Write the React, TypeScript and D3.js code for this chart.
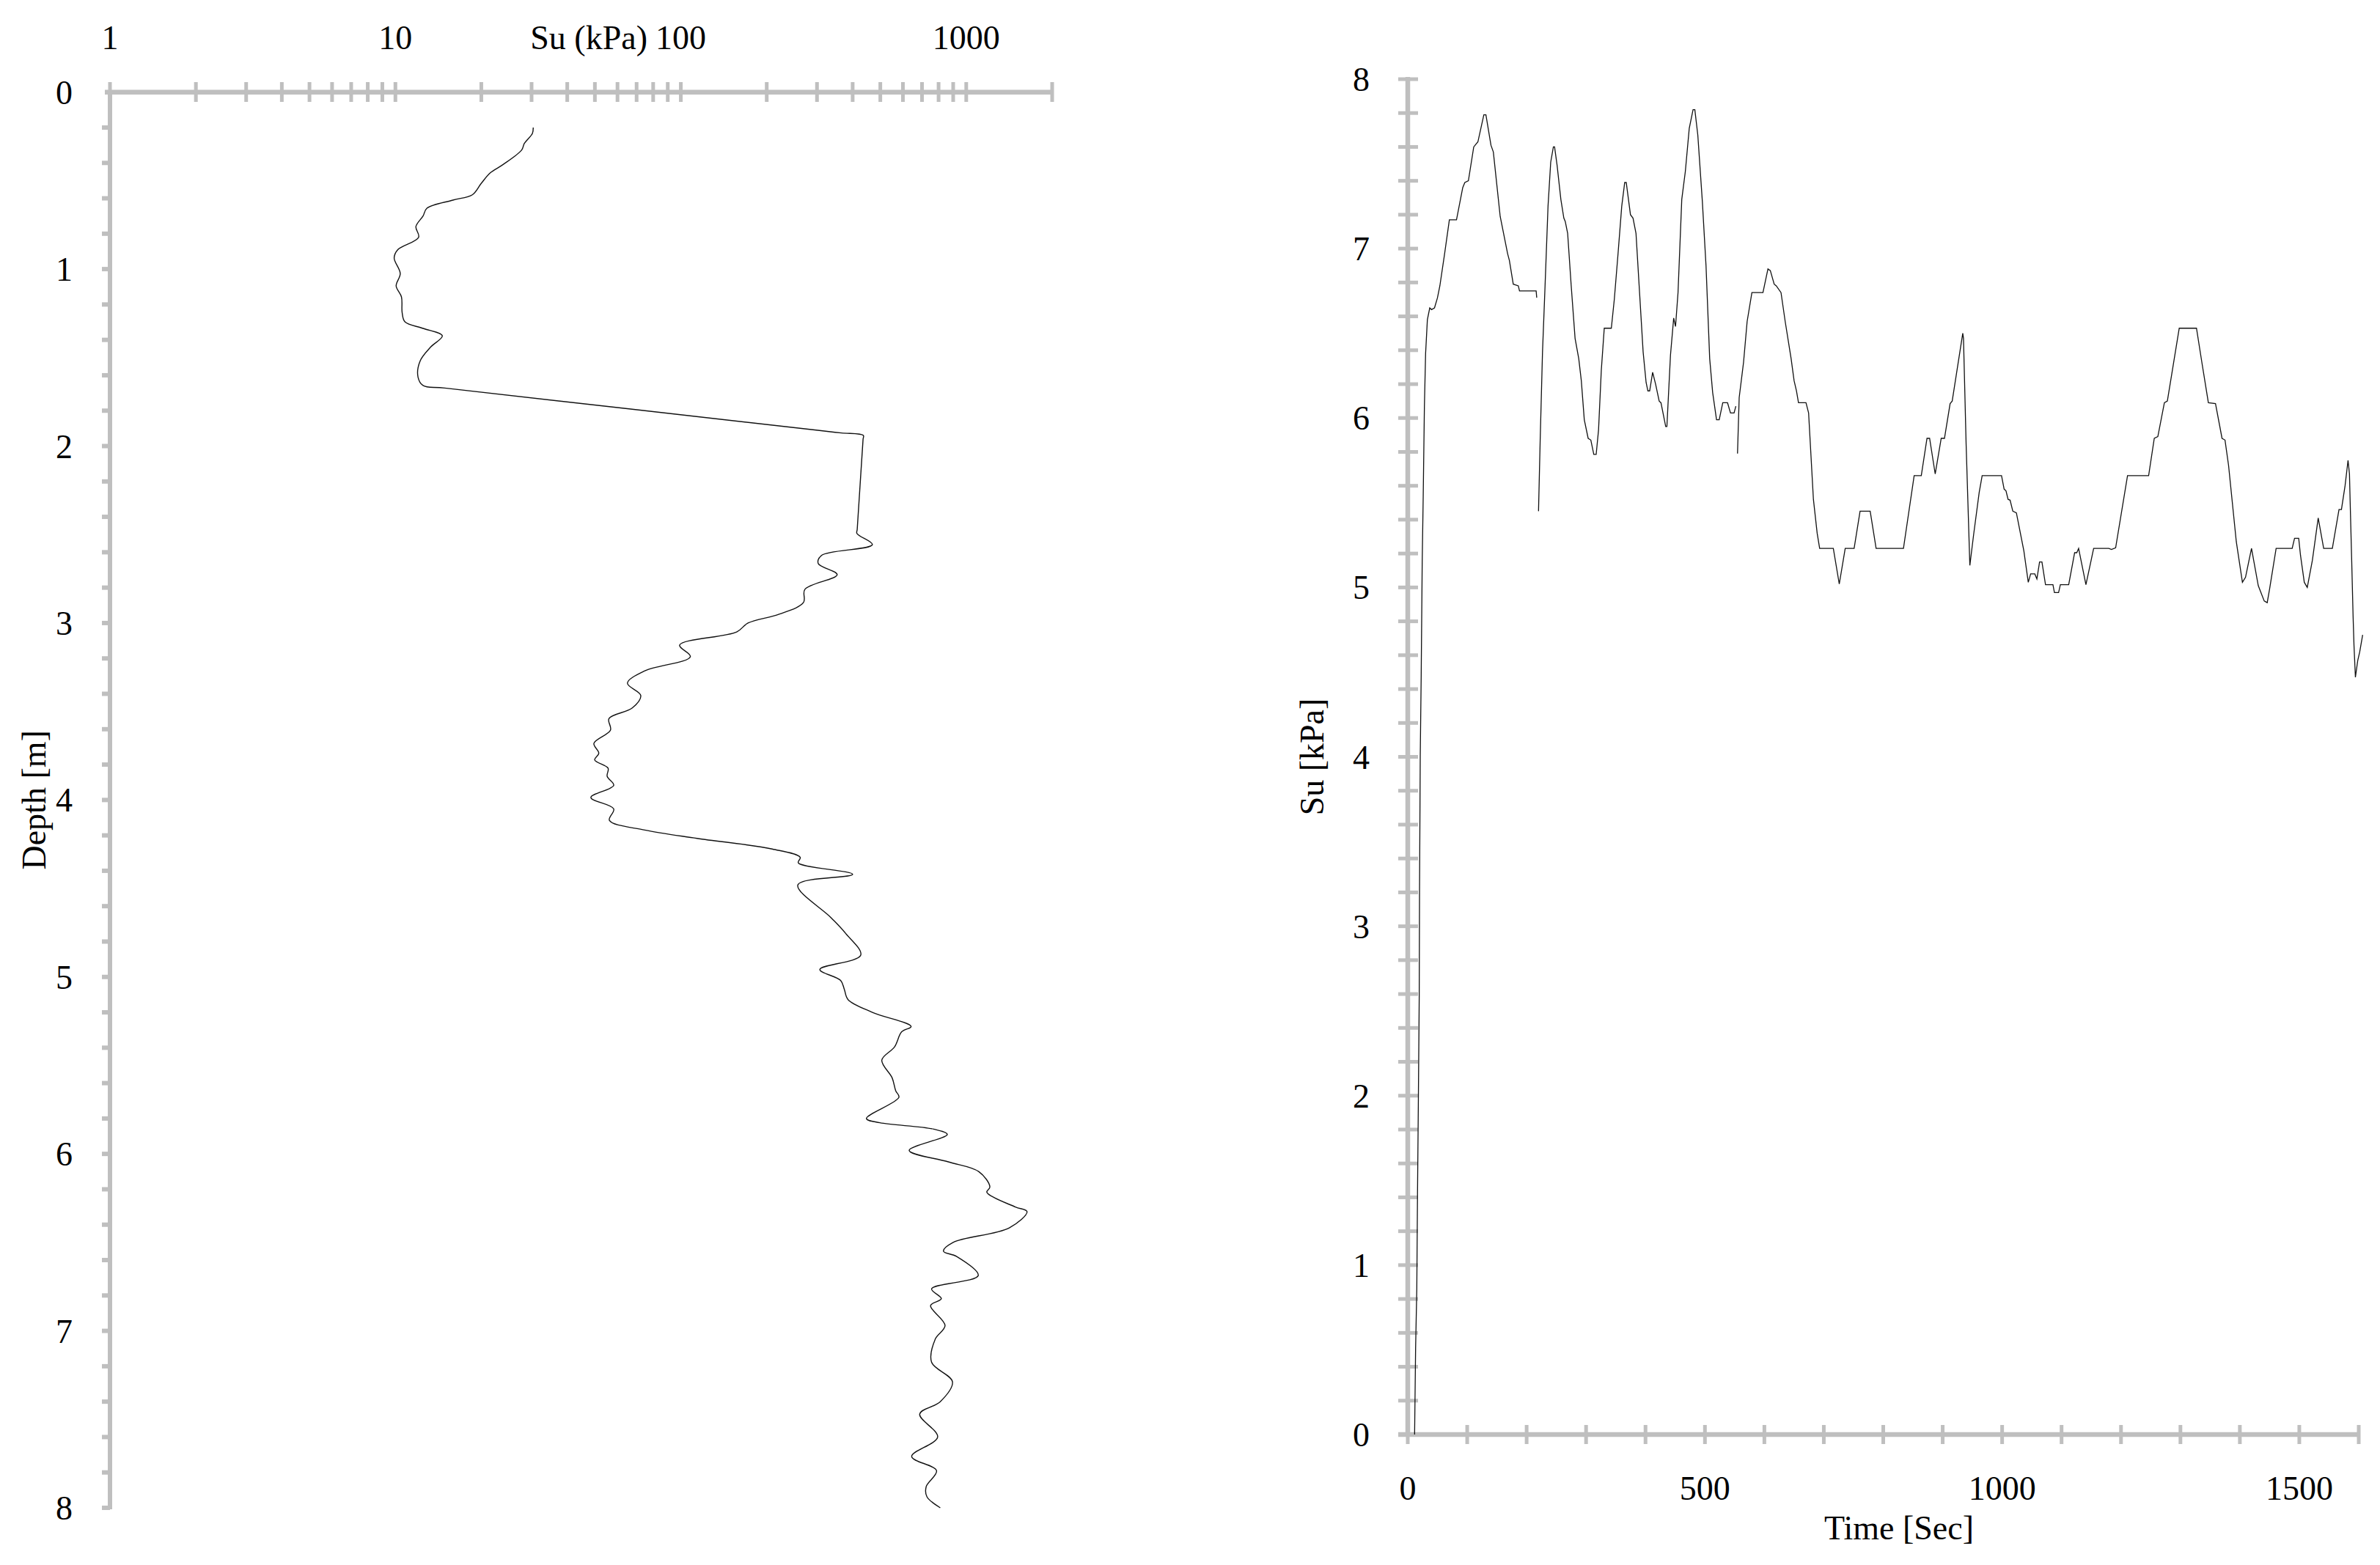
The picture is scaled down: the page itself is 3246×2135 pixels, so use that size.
import React from "react";
import * as d3 from "d3";

// ---------- Left chart: Su (kPa) vs depth (m) ----------
const profileDepth = [
  0.2, 0.233, 0.29, 0.327, 0.41, 0.456, 0.515, 0.58, 0.61, 0.656, 0.7, 0.76, 0.82, 0.89, 0.937,
  1.025, 1.095, 1.157, 1.247, 1.298, 1.335, 1.377, 1.44, 1.52, 1.61, 1.658, 1.672, 1.912, 1.926,
  1.94, 1.962, 2.47, 2.494, 2.557,
  2.618, 2.664, 2.727, 2.81, 2.884, 2.95, 3.0, 3.05, 3.125, 3.19, 3.27, 3.34, 3.41, 3.48, 3.54,
  3.605, 3.68, 3.736, 3.773, 3.82, 3.866, 3.917, 3.986, 4.05, 4.115, 4.17, 4.217, 4.277, 4.324,
  4.355, 4.42, 4.48, 4.665, 4.754, 4.877, 4.958, 5.02, 5.07, 5.127, 5.2, 5.28, 5.31, 5.395, 5.47,
  5.57, 5.643, 5.68, 5.8, 5.824, 5.86, 5.89, 5.98, 6.045, 6.1, 6.186, 6.217, 6.3, 6.326, 6.418,
  6.5, 6.55, 6.58, 6.687, 6.763, 6.818, 6.857, 6.97, 7.046, 7.177, 7.288, 7.4, 7.47, 7.6, 7.71,
  7.79, 7.88, 7.937, 8.0,
];
const profileSu = [
  30.4, 30.2, 28.3, 27.7, 23.8, 21.5, 20.0, 18.6, 15.9, 12.9, 12.5, 11.8, 12.06, 10.2, 9.9,
  10.4, 10.06, 10.5, 10.56, 10.8, 12.5, 14.6, 13.3, 12.2, 12.0, 12.5, 14.9, 306, 365,
  436, 435, 415, 414, 469,
  311, 303, 353, 272, 269, 221, 172, 157, 99, 108, 74.8, 65, 72.4, 67.6, 56,
  56.7, 49.6, 51.6, 49.9, 55.6, 55.2, 58.2, 48.4, 58.2, 56.2, 74.8, 114, 209, 262,
  258, 400, 257, 336, 378, 427, 307, 363, 374, 385, 469, 641, 594, 561, 506,
  550, 566, 581, 447, 498, 769, 858, 631, 865, 1107, 1210, 1181, 1487, 1633, 1415,
  900, 832, 926, 1102, 756, 818, 750, 843, 779, 756, 895, 811, 687, 794, 644,
  787, 724, 728, 811,
];
const suLogLabels = [1, 10, 100, 1000];
const depthLabels = [0, 1, 2, 3, 4, 5, 6, 7, 8];

// ---------- Right chart: Su [kPa] vs time [Sec] (null = gap) ----------
const timeSec = [
  11.5, 13.2, 15.2, 16.4, 17.7, 19.3, 19.8, 21, 22.6, 24.3, 26, 28, 30, 33, 37, 40, 45, 50, 54, 62,
  70, 82, 92.5, 96, 102, 111, 118, 128, 131.5, 140, 144, 155.5, 168, 171, 177.5, 186, 188, 216, 217,
  218.5,
  220, 222.8, 226.7, 231, 236, 240.5, 245, 247, 251.3, 257.6, 262.6, 265, 269, 275, 281.5, 287.7,
  292, 297, 303.5, 308, 313, 317, 321, 325.6, 330.6, 342.5, 347.5, 353.8, 360, 365, 367.6, 374.7,
  379, 384, 390, 396, 401, 404, 407, 412, 417, 423, 426, 434, 436, 442, 447.4, 450.5, 454.7, 461,
  467, 473.6, 480, 483, 488, 495.6, 501.8, 508, 513, 519.5, 524, 530, 538, 543, 549, 552,
  553.5,
  554.8, 557.6, 565, 571, 579, 597.6, 606, 610, 616.5, 620, 628, 635, 645, 650, 654, 657.4, 670,
  674.4, 682.5, 688.8, 693, 716, 726, 736, 751, 761, 778, 788, 834, 852, 864, 873.6, 878, 887.4,
  897.5, 903, 912.5, 916, 933.8, 935, 939.4, 945.7, 952, 961.4, 966.4, 999, 1003.4, 1006.5, 1010,
  1013.4, 1018, 1024, 1036.6, 1044, 1048, 1055, 1058.5, 1063, 1067, 1073, 1085.5, 1088, 1095, 1098,
  1112, 1122, 1125.6, 1128.7, 1141, 1154, 1179.5, 1184, 1191, 1211, 1246.5, 1256, 1262, 1273, 1278,
  1298, 1327, 1336, 1347, 1359, 1370, 1375, 1381, 1394, 1404.3, 1409.5, 1416, 1419.6, 1431, 1441,
  1446, 1450, 1461, 1488, 1492, 1499, 1502, 1508.4, 1513.4, 1522, 1531.8, 1541, 1555.6, 1566.8,
  1570.9, 1577, 1582, 1584.4, 1585.6, 1588, 1590.5, 1592, 1594.4, 1598.4, 1601.7, 1606.6,
];
const suTime = [
  0, 0.51, 0.86, 1.42, 1.92, 2.59, 3.2, 4.0, 4.48, 5.15, 5.54, 6.07, 6.38, 6.58, 6.65, 6.64, 6.65,
  6.71, 6.78, 6.97, 7.17, 7.17, 7.36, 7.39, 7.4, 7.6, 7.63, 7.79, 7.79, 7.61, 7.57, 7.19, 6.97, 6.93,
  6.79, 6.78, 6.75, 6.75, 6.71,
  null,
  5.45, 5.87, 6.39, 6.78, 7.25, 7.51, 7.6, 7.6, 7.49, 7.29, 7.18, 7.16, 7.09, 6.78, 6.47, 6.35,
  6.22, 5.99, 5.88, 5.87, 5.785, 5.785, 5.93, 6.28, 6.53, 6.53, 6.7, 6.97, 7.25, 7.39, 7.39, 7.2,
  7.18, 7.09, 6.74, 6.39, 6.21, 6.16, 6.16, 6.27, 6.2, 6.1, 6.09, 5.95, 5.95, 6.37, 6.59, 6.54,
  6.74, 7.29, 7.455, 7.71, 7.82, 7.82, 7.67, 7.28, 6.9, 6.35, 6.15, 5.99, 5.99, 6.09, 6.09, 6.03,
  6.03, 6.07,
  null,
  5.79, 6.12, 6.33, 6.57, 6.74, 6.74, 6.88, 6.87, 6.79, 6.78, 6.74, 6.57, 6.35, 6.22, 6.16, 6.09,
  6.09, 6.03, 5.52, 5.32, 5.23, 5.23, 5.02, 5.23, 5.23, 5.45, 5.45, 5.23, 5.23, 5.66, 5.66, 5.88,
  5.88, 5.67, 5.88, 5.88, 6.085, 6.1, 6.5, 6.47, 5.85, 5.13, 5.31, 5.56, 5.66, 5.66, 5.58, 5.57,
  5.52, 5.515, 5.45, 5.44, 5.215, 5.03, 5.08, 5.08, 5.05, 5.15, 5.15, 5.016, 5.016, 4.97, 4.97,
  5.016, 5.016, 5.205, 5.205, 5.23, 5.016, 5.23, 5.23, 5.224, 5.234, 5.66, 5.66, 5.88, 5.89, 6.09,
  6.1, 6.53, 6.53, 6.33, 6.09, 6.085, 5.88, 5.87, 5.72, 5.27, 5.03, 5.06, 5.17, 5.23, 5.01, 4.92,
  4.91, 4.99, 5.23, 5.23, 5.29, 5.29, 5.19, 5.03, 5.0, 5.16, 5.41, 5.23, 5.23, 5.46, 5.46, 5.6,
  5.75, 5.67, 5.5, 5.18, 4.83, 4.66, 4.47, 4.57, 4.62, 4.72,
];
const timeLabels = [0, 500, 1000, 1500];
const suLabels = [0, 1, 2, 3, 4, 5, 6, 7, 8];

const W = 3246;
const H = 2135;
const AXIS = "#BFBFBF";
const FONT = "'Liberation Serif', 'Times New Roman', serif";
const FS = 46;

export default function App() {
  // left chart scales
  const xLog = d3.scaleLog().domain([1, 2000]).range([150, 1435]);
  const yDepth = d3.scaleLinear().domain([0, 8]).range([125.7, 2057]);
  // right chart scales
  const xTime = d3.scaleLinear().domain([0, 1600]).range([1920, 3217]);
  const ySu = d3.scaleLinear().domain([0, 8]).range([1957, 108]);

  const profile = profileDepth.map((d, i) => [d, profileSu[i]] as [number, number]);
  const profilePath = d3
    .line<[number, number]>()
    .x((d) => xLog(d[1]))
    .y((d) => yDepth(d[0]))
    .curve(d3.curveCatmullRom.alpha(0.5))(profile);

  const series = timeSec.map((t, i) => [t, suTime[i]] as [number, number | null]);
  const timePath = d3
    .line<[number, number | null]>()
    .defined((d) => d[1] !== null)
    .x((d) => xTime(d[0]))
    .y((d) => ySu(d[1] as number))(series);

  // log ticks: 1..9, 10..90, 100..900, 1000, 2000
  const logTicks: number[] = [];
  [1, 10, 100].forEach((dec) => {
    for (let k = 1; k <= 9; k++) logTicks.push(k * dec);
  });
  logTicks.push(1000, 2000);

  const depthMinor = d3.range(0, 41).map((i) => i * 0.2).filter((v) => v > 0.01);
  const suMinor = d3.range(0, 41).map((i) => i * 0.2).filter((v) => v > 0.01);
  const timeTicks = d3.range(0, 1601, 100);

  return (
    <svg
      width={W}
      height={H}
      viewBox={`0 0 ${W} ${H}`}
      style={{ position: "absolute", left: 0, top: 0, background: "#fff" }}
      fontFamily={FONT}
    >
      <rect x={0} y={0} width={W} height={H} fill="#fff" />

      {/* ===== LEFT CHART ===== */}
      <line x1={143} x2={1437} y1={yDepth(0)} y2={yDepth(0)} stroke={AXIS} strokeWidth={6.5} />
      {logTicks.map((v) => (
        <line key={"lt" + v} x1={xLog(v)} x2={xLog(v)} y1={112} y2={139} stroke={AXIS} strokeWidth={5} />
      ))}
      {suLogLabels.map((v) => (
        <text key={"ll" + v} x={xLog(v)} y={67} fontSize={FS} textAnchor="middle" fill="#000">
          {v}
        </text>
      ))}
      <text x={883} y={67} fontSize={FS} textAnchor="end" fill="#000">
        Su (kPa)
      </text>

      <line x1={150} x2={150} y1={yDepth(0)} y2={yDepth(8) + 2} stroke={AXIS} strokeWidth={6} />
      {depthMinor.map((v) => (
        <line key={"dt" + v} x1={139} x2={150} y1={yDepth(v)} y2={yDepth(v)} stroke={AXIS} strokeWidth={6} />
      ))}
      {depthLabels.map((v) => (
        <text key={"dl" + v} x={99} y={yDepth(v)} dy="0.35em" fontSize={FS} textAnchor="end" fill="#000">
          {v}
        </text>
      ))}
      <text
        transform={`translate(62, ${(yDepth(0) + yDepth(8)) / 2}) rotate(-90)`}
        fontSize={FS}
        textAnchor="middle"
        fill="#000"
      >
        Depth [m]
      </text>

      <path d={profilePath || ""} fill="none" stroke="#111" strokeWidth={1.4} />

      {/* ===== RIGHT CHART ===== */}
      <line x1={1920} x2={1920} y1={ySu(8) - 3} y2={ySu(0)} stroke={AXIS} strokeWidth={6.5} />
      {suMinor.map((v) => (
        <line key={"st" + v} x1={1907} x2={1934} y1={ySu(v)} y2={ySu(v)} stroke={AXIS} strokeWidth={5} />
      ))}
      {suLabels.map((v) => (
        <text key={"sl" + v} x={1868} y={ySu(v)} dy="0.35em" fontSize={FS} textAnchor="end" fill="#000">
          {v}
        </text>
      ))}
      <text
        transform={`translate(1805, ${(ySu(0) + ySu(8)) / 2}) rotate(-90)`}
        fontSize={FS}
        textAnchor="middle"
        fill="#000"
      >
        Su [kPa]
      </text>

      <line x1={1907} x2={3219} y1={ySu(0)} y2={ySu(0)} stroke={AXIS} strokeWidth={6.5} />
      {timeTicks.map((v) => (
        <line key={"tt" + v} x1={xTime(v)} x2={xTime(v)} y1={1944} y2={1970} stroke={AXIS} strokeWidth={5} />
      ))}
      {timeLabels.map((v) => (
        <text key={"tl" + v} x={xTime(v)} y={2046} fontSize={FS} textAnchor="middle" fill="#000">
          {v}
        </text>
      ))}
      <text x={2590} y={2100} fontSize={FS} textAnchor="middle" fill="#000">
        Time [Sec]
      </text>

      <path d={timePath || ""} fill="none" stroke="#111" strokeWidth={1.3} />
    </svg>
  );
}
